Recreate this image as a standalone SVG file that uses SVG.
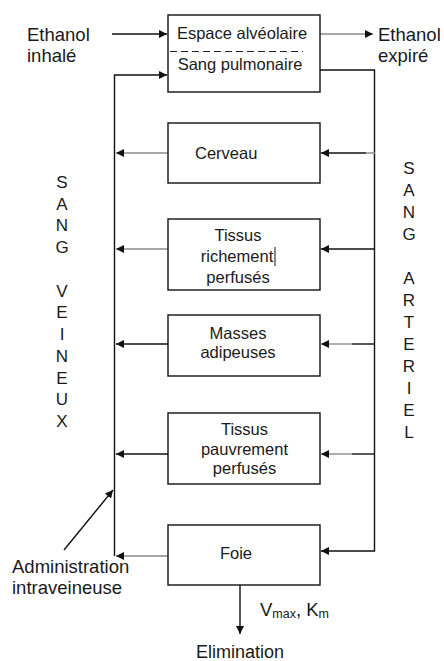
<svg xmlns="http://www.w3.org/2000/svg" width="444" height="661" viewBox="0 0 444 661">
<style>
text{font-family:"Liberation Sans",Arial,sans-serif;font-size:16.5px;fill:#1a1a1a}
.c{text-anchor:middle}
.big{font-size:18.5px}
.let{font-size:17px}
.box{fill:#fff;stroke:#111;stroke-width:1.4}
.ln{fill:none;stroke:#111;stroke-width:1.4}
.g{fill:none;stroke:#8a8a8a;stroke-width:1.4}
.sub{font-size:12.5px}
</style>
<defs>
<marker id="ah" viewBox="0 0 10 10" refX="10" refY="5" markerWidth="8" markerHeight="8" markerUnits="userSpaceOnUse" orient="auto">
<path d="M0,0 L10,5 L0,10 Z" fill="#111"/>
</marker>
</defs>
<rect width="444" height="661" fill="#fff"/>
<g id="connectors">
<line class="ln" x1="112" y1="34" x2="167" y2="34" marker-end="url(#ah)"/>
<line class="g" x1="320" y1="34" x2="373" y2="34" marker-end="url(#ah)"/>
<polyline class="ln" points="114.5,556 114.5,75 167,75" marker-end="url(#ah)"/>
<polyline class="ln" points="320,70 374.5,70 374.5,551 321,551" marker-end="url(#ah)"/>
<line class="g" x1="168" y1="153" x2="116" y2="153" marker-end="url(#ah)"/>
<line class="g" x1="375" y1="153" x2="366" y2="153"/>
<line class="ln" x1="366" y1="153" x2="321" y2="153" marker-end="url(#ah)"/>
<line class="g" x1="168" y1="249" x2="116" y2="249" marker-end="url(#ah)"/>
<line class="ln" x1="375" y1="249" x2="321" y2="249" marker-end="url(#ah)"/>
<line class="ln" x1="168" y1="344" x2="116" y2="344" marker-end="url(#ah)"/>
<line class="ln" x1="375" y1="344" x2="352" y2="344"/>
<line class="g" x1="352" y1="344" x2="321" y2="344" marker-end="url(#ah)"/>
<line class="ln" x1="168" y1="454" x2="116" y2="454" marker-end="url(#ah)"/>
<line class="ln" x1="375" y1="454" x2="352" y2="454"/>
<line class="g" x1="352" y1="454" x2="321" y2="454" marker-end="url(#ah)"/>
<line class="g" x1="168" y1="556" x2="116" y2="556" marker-end="url(#ah)"/>
<line class="ln" x1="64" y1="550" x2="113" y2="490" marker-end="url(#ah)"/>
<line class="ln" x1="240" y1="585" x2="240" y2="634" marker-end="url(#ah)"/>
</g>
<g id="poumon">
<rect class="box" x="168" y="15" width="152" height="77"/>
<line x1="170" y1="51.5" x2="303" y2="51.5" stroke="#222" stroke-width="1.2" stroke-dasharray="7,4"/>
<text class="c" x="242" y="39">Espace alvéolaire</text>
<text class="c" x="240" y="70">Sang pulmonaire</text>
</g>
<g id="cerveau">
<rect class="box" x="168" y="123" width="152" height="60"/>
<text x="195" y="159">Cerveau</text>
</g>
<g id="tissus-riches">
<rect class="box" x="168" y="219" width="152" height="71"/>
<text class="c" x="238" y="241">Tissus</text>
<text class="c" x="237" y="262">richement</text>
<text class="c" x="238" y="283">perfusés</text>
<line x1="275" y1="247" x2="275" y2="266" stroke="#111" stroke-width="1"/>
</g>
<g id="masses">
<rect class="box" x="168" y="315" width="152" height="61"/>
<text class="c" x="238" y="339">Masses</text>
<text class="c" x="238" y="358">adipeuses</text>
</g>
<g id="tissus-pauvres">
<rect class="box" x="168" y="413" width="152" height="71"/>
<text class="c" x="244.5" y="435">Tissus</text>
<text class="c" x="244.5" y="455">pauvrement</text>
<text class="c" x="244.5" y="474">perfusés</text>
</g>
<g id="foie">
<rect class="box" x="168" y="525" width="152" height="60"/>
<text class="c" x="236" y="559">Foie</text>
</g>
<g id="labels">
<text class="big" x="27" y="41">Ethanol</text>
<text class="big" x="27" y="62">inhalé</text>
<text class="big" x="378" y="41">Ethanol</text>
<text class="big" x="378" y="62">expiré</text>
<text class="big" x="12" y="573">Administration</text>
<text class="big" x="12" y="594">intraveineuse</text>
<text class="big" x="260" y="616">V<tspan class="sub" dy="2">max</tspan><tspan dy="-2">, K</tspan><tspan class="sub" dy="2">m</tspan></text>
<text class="c" x="240" y="658" style="font-size:18px">Elimination</text>
</g>
<g id="sang-veineux">
<text class="c let" x="62" y="188">S</text>
<text class="c let" x="62" y="210">A</text>
<text class="c let" x="62" y="231">N</text>
<text class="c let" x="62" y="253">G</text>
<text class="c let" x="62" y="297">V</text>
<text class="c let" x="62" y="318">E</text>
<text class="c let" x="62" y="340">I</text>
<text class="c let" x="62" y="362">N</text>
<text class="c let" x="62" y="384">E</text>
<text class="c let" x="62" y="405">U</text>
<text class="c let" x="62" y="427">X</text>
</g>
<g id="sang-arteriel">
<text class="c let" x="409" y="174">S</text>
<text class="c let" x="409" y="196">A</text>
<text class="c let" x="409" y="218">N</text>
<text class="c let" x="409" y="240">G</text>
<text class="c let" x="409" y="284">A</text>
<text class="c let" x="409" y="306">R</text>
<text class="c let" x="409" y="328">T</text>
<text class="c let" x="409" y="350">E</text>
<text class="c let" x="409" y="372">R</text>
<text class="c let" x="409" y="394">I</text>
<text class="c let" x="409" y="416">E</text>
<text class="c let" x="409" y="438">L</text>
</g>
</svg>
